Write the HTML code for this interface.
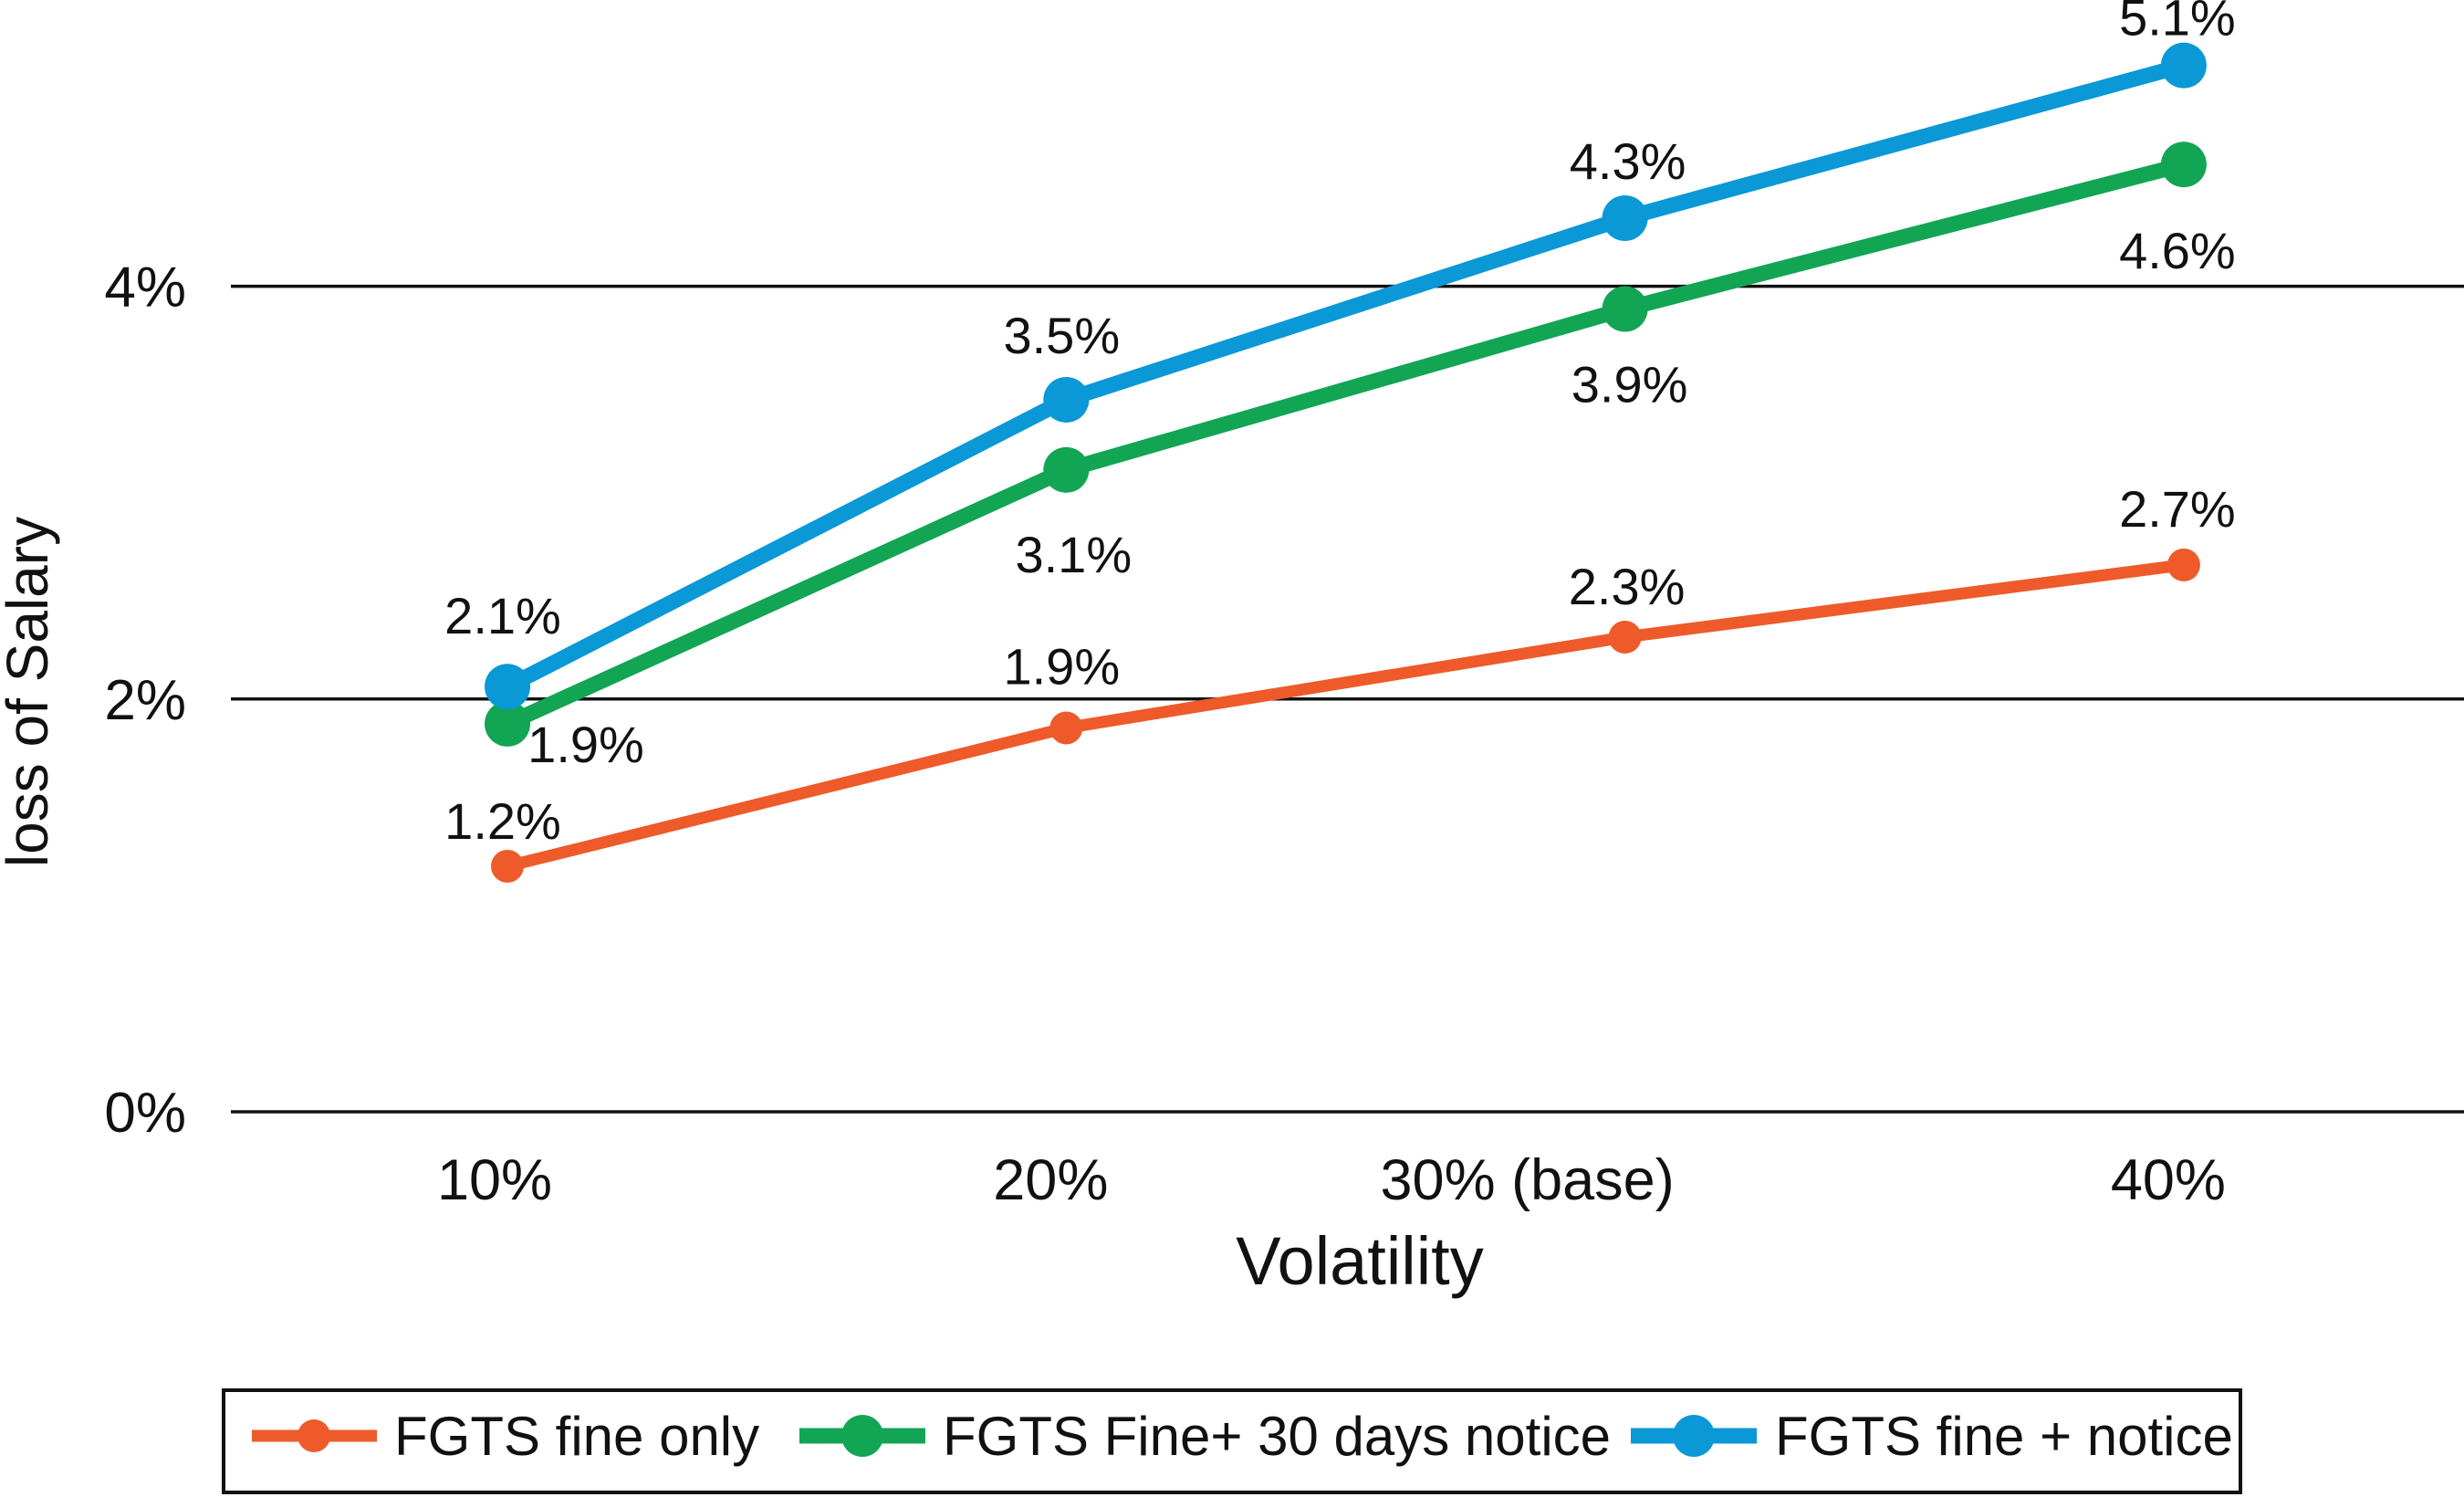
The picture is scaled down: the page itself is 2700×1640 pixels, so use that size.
<!DOCTYPE html>
<html><head><meta charset="utf-8"><style>
html,body{margin:0;padding:0;background:#fff;}
svg{display:block;font-family:"Liberation Sans",Arial,sans-serif;}
</style></head><body>
<svg id="chart" width="2700" height="1640" viewBox="0 0 2700 1640" xmlns="http://www.w3.org/2000/svg">
<g id="grid"></g><g id="series"></g><g id="labels"></g>
<text x="1490" y="1407" font-size="74" text-anchor="middle" fill="#111">Volatility</text>
<text transform="translate(52,758) rotate(-90)" font-size="64" text-anchor="middle" fill="#111">loss of Salary</text>
<g>
<rect x="245" y="1523" width="2210" height="112" fill="#fff" stroke="#111" stroke-width="4"/>
<g>
<line x1="276" y1="1573" x2="413" y2="1573" stroke="#EE5A2A" stroke-width="13"/><circle cx="344" cy="1573" r="18" fill="#EE5A2A"/>
<text x="432" y="1594" font-size="60" fill="#111">FGTS fine only</text></g>
<g>
<line x1="876" y1="1573" x2="1014" y2="1573" stroke="#12A554" stroke-width="17"/><circle cx="945" cy="1573" r="23" fill="#12A554"/>
<text x="1033" y="1594" font-size="60" fill="#111">FGTS Fine+ 30 days notice</text></g>
<g>
<line x1="1787" y1="1573" x2="1925" y2="1573" stroke="#0A98D6" stroke-width="17"/><circle cx="1856" cy="1573" r="23" fill="#0A98D6"/>
<text x="1945" y="1594" font-size="60" fill="#111">FGTS fine + notice</text></g>
</g>
</svg>
<script>
const categories = ["10%","20%","30% (base)","40%"];
const yTicks = [0,2,4];
const yTickLabels = ["0%","2%","4%"];
const fineOnly = [1.19,1.86,2.30,2.65];
const fine30 = [1.88,3.11,3.89,4.59];
const fineNotice = [2.06,3.45,4.33,5.07];
const fineOnlyLabels = ["1.2%","1.9%","2.3%","2.7%"];
const fine30Labels = ["1.9%","3.1%","3.9%","4.6%"];
const fineNoticeLabels = ["2.1%","3.5%","4.3%","5.1%"];

const NS="http://www.w3.org/2000/svg";
const xScale = i => 556 + i*612.3;
const yScale = v => 1218 - v*226.1;
function mk(tag, attrs, parent){const e=document.createElementNS(NS,tag);for(const k in attrs)e.setAttribute(k,attrs[k]);parent.appendChild(e);return e;}
const grid=document.getElementById('grid'), ser=document.getElementById('series'), lab=document.getElementById('labels');
yTicks.forEach((t,i)=>{
  const l=mk('line',{x1:253,x2:2700,y1:yScale(t),y2:yScale(t),stroke:'#111','stroke-width':3.5},grid);
  
  
  const tx=mk('text',{x:204,y:yScale(t)+22,'font-size':62,'text-anchor':'end',fill:'#111'},grid);
  tx.textContent=yTickLabels[i];
  
  
});
const xLabelShift=[-14,-17,-107,-17];
categories.forEach((c,i)=>{
  const tx=mk('text',{x:xScale(i)+xLabelShift[i],y:1314,'font-size':63,'text-anchor':'middle',fill:'#111'},grid);
  tx.textContent=c;
  
  
});
const series=[
 {name:'fgts-fine-only',vals:fineOnly,labs:fineOnlyLabels,color:'#EE5A2A',w:13,r:18,off:[[-5,-30],[-5,-48],[2,-36],[-7,-42]]},
 {name:'fgts-fine-30-days',vals:fine30,labs:fine30Labels,color:'#12A554',w:17,r:25,off:[[86,42],[8,112],[5,102],[-7,114]]},
 {name:'fgts-fine-notice',vals:fineNotice,labs:fineNoticeLabels,color:'#0A98D6',w:17,r:25,off:[[-5,-58],[-5,-51],[3,-43],[-7,-33]]},
];
series.forEach(s=>{
  const pts=s.vals.map((v,i)=>xScale(i)+','+yScale(v)).join(' ');
  const pl=mk('polyline',{points:pts,fill:'none',stroke:s.color,'stroke-width':s.w,'stroke-linejoin':'round'},ser);
  
  
  s.vals.forEach((v,i)=>{
    const c=mk('circle',{cx:xScale(i),cy:yScale(v),r:s.r,fill:s.color},ser);
    
    
    const t=mk('text',{x:xScale(i)+s.off[i][0],y:yScale(v)+s.off[i][1],'font-size':56,'text-anchor':'middle',fill:'#111'},lab);
    t.textContent=s.labs[i];
    
    
  });
});
</script>
</body></html>
